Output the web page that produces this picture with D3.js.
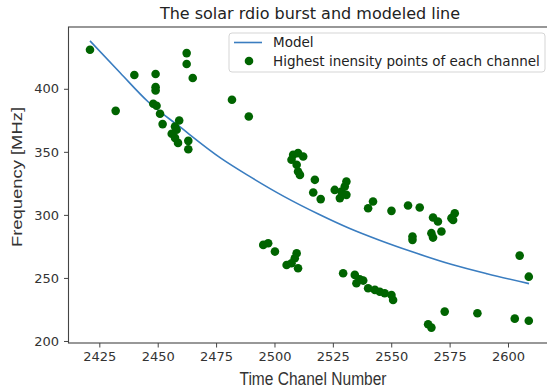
<!DOCTYPE html>
<html>
<head>
<meta charset="utf-8">
<script src="https://cdn.jsdelivr.net/npm/d3@7"></script>
<style>
  html, body { margin: 0; padding: 0; background: #fff; }
  svg { display: block; }
</style>
</head>
<body>
<svg id="chart" width="547" height="389"></svg>
<script>
// Highest-intensity points per time channel (time channel, frequency in MHz)
const channelTimes = [
  2421.0, 2462.4, 2462.4, 2465.0, 2440.0, 2449.1, 2449.1, 2449.1, 2432.0, 2448.1,
  2449.5, 2451.0, 2452.1, 2459.2, 2457.4, 2458.1, 2456.0, 2457.4, 2458.7, 2463.1,
  2463.1, 2481.8, 2489.0, 2508.0, 2510.1, 2512.3, 2507.3, 2509.5, 2510.1, 2510.9,
  2517.3, 2516.6, 2519.8, 2525.8, 2528.7, 2530.8, 2530.1, 2528.0, 2530.8, 2542.2,
  2540.1, 2550.1, 2495.2, 2497.3, 2500.2, 2509.5, 2508.7, 2505.2, 2507.3, 2510.1,
  2529.4, 2534.4, 2536.5, 2535.1, 2538.0, 2540.1, 2543.0, 2545.1, 2547.2, 2550.1,
  2550.8, 2557.2, 2562.2, 2567.9, 2570.0, 2571.5, 2567.2, 2567.9, 2576.5, 2577.2,
  2575.8, 2559.1, 2559.1, 2572.9, 2565.8, 2567.2, 2586.9, 2605.0, 2608.9, 2602.9,
  2608.9
];
const channelFreqs = [
  431.0, 428.3, 419.6, 408.5, 410.9, 411.7, 401.3, 398.7, 382.5, 388.1,
  386.5, 380.2, 372.0, 374.8, 370.1, 367.5, 364.3, 361.1, 357.1, 358.7,
  352.1, 391.3, 378.0, 347.6, 349.0, 346.3, 343.7, 339.7, 334.4, 331.7,
  327.8, 317.7, 312.5, 319.8, 318.5, 326.4, 322.5, 313.3, 315.9, 310.6,
  305.3, 303.2, 276.2, 277.5, 270.9, 269.6, 265.6, 260.3, 261.7, 257.7,
  253.7, 252.4, 249.0, 245.8, 247.9, 241.8, 240.5, 239.1, 237.8, 236.5,
  232.5, 307.4, 305.8, 297.9, 294.8, 286.8, 285.5, 282.0, 296.0, 301.3,
  297.4, 280.2, 282.8, 223.3, 213.3, 210.6, 222.0, 267.7, 251.0, 217.7,
  216.1
];

// Modeled drift line
const modelTimes = [2421, 2434, 2446, 2459, 2477, 2489, 2504, 2519, 2532, 2545, 2559, 2576, 2591, 2609];
const modelFreqs = [438.0, 412.5, 389.5, 370.5, 345.0, 330.9, 314.7, 300.5, 289.4, 279.9, 270.7, 260.6, 253.3, 245.5];

// Tick labels
const xTicks = [2425, 2450, 2475, 2500, 2525, 2550, 2575, 2600];
const yTicks = [200, 250, 300, 350, 400];

const titleText = "The solar rdio burst and modeled line";
const xLabel = "Time Chanel Number";
const yLabel = "Frequency [MHz]";
const legendLabels = ["Model", "Highest inensity points of each channel"];

const svg = d3.select("#chart");
const plot = { left: 68.5, right: 553.3, top: 27, bottom: 343 };

const x = d3.scaleLinear().domain([2411.8, 2619.4]).range([plot.left, plot.right]);
const y = d3.scaleLinear().domain([198.4, 449]).range([plot.bottom, plot.top]);

const tickFont = "'DejaVu Sans', sans-serif";
const labelFont = "'Liberation Sans', Arial, sans-serif";

// Model line (drawn beneath the points)
const modelData = modelTimes.map((t, i) => [t, modelFreqs[i]]);
svg.append("path")
  .datum(modelData)
  .attr("fill", "none")
  .attr("stroke", "#3a7dc0")
  .attr("stroke-width", 1.6)
  .attr("d", d3.line().x(d => x(d[0])).y(d => y(d[1])).curve(d3.curveMonotoneX));

// Scatter points
const pts = channelTimes.map((t, i) => [t, channelFreqs[i]]);
svg.append("g").selectAll("circle")
  .data(pts)
  .join("circle")
  .attr("cx", d => x(d[0]))
  .attr("cy", d => y(d[1]))
  .attr("r", 4.3)
  .attr("fill", "#006400");

// Axes frame
svg.append("rect")
  .attr("x", plot.left).attr("y", plot.top)
  .attr("width", plot.right - plot.left).attr("height", plot.bottom - plot.top)
  .attr("fill", "none").attr("stroke", "#444").attr("stroke-width", 1.1);

// Axes
const gx = svg.append("g")
  .attr("transform", `translate(0,${plot.bottom})`)
  .call(d3.axisBottom(x).tickValues(xTicks).tickFormat(d3.format("d")).tickSize(4.5).tickPadding(4.5).tickSizeOuter(0));
const gy = svg.append("g")
  .attr("transform", `translate(${plot.left},0)`)
  .call(d3.axisLeft(y).tickValues(yTicks).tickFormat(d3.format("d")).tickSize(4.5).tickPadding(5).tickSizeOuter(0));
[gx, gy].forEach(g => {
  g.select(".domain").remove();
  g.selectAll(".tick line").attr("stroke", "#444").attr("stroke-width", 1);
  g.selectAll(".tick text")
    .attr("fill", "#333")
    .style("font-family", tickFont)
    .style("font-size", "13px");
});

// Title
svg.append("text")
  .attr("x", 310).attr("y", 19)
  .attr("text-anchor", "middle")
  .attr("fill", "#222")
  .style("font-family", tickFont)
  .style("font-size", "16px")
  .text(titleText);

// Axis labels (set in a narrowed sans face)
svg.append("text")
  .attr("transform", "translate(313,385) scale(0.84,1)")
  .attr("text-anchor", "middle")
  .attr("fill", "#333")
  .style("font-family", labelFont)
  .style("font-size", "18.5px")
  .text(xLabel);

svg.append("text")
  .attr("transform", "translate(22,177) rotate(-90) scale(1,0.8)")
  .attr("text-anchor", "middle")
  .attr("fill", "#333")
  .style("font-family", labelFont)
  .style("font-size", "18.4px")
  .text(yLabel);

// Legend
const lg = svg.append("g");
lg.append("rect")
  .attr("x", 229).attr("y", 33).attr("width", 316).attr("height", 39)
  .attr("rx", 3).attr("ry", 3)
  .attr("fill", "#fff").attr("fill-opacity", 0.85)
  .attr("stroke", "#d5d5d5").attr("stroke-width", 1);
lg.append("line")
  .attr("x1", 234).attr("x2", 262).attr("y1", 42.5).attr("y2", 42.5)
  .attr("stroke", "#3a7dc0").attr("stroke-width", 1.6);
lg.append("circle")
  .attr("cx", 249).attr("cy", 61).attr("r", 4.3).attr("fill", "#006400");
lg.selectAll("text.lab")
  .data(legendLabels)
  .join("text")
  .attr("class", "lab")
  .attr("x", 273)
  .attr("y", (d, i) => 47 + i * 18.5)
  .attr("fill", "#222")
  .style("font-family", tickFont)
  .style("font-size", "13.5px")
  .text(d => d);
</script>
</body>
</html>
